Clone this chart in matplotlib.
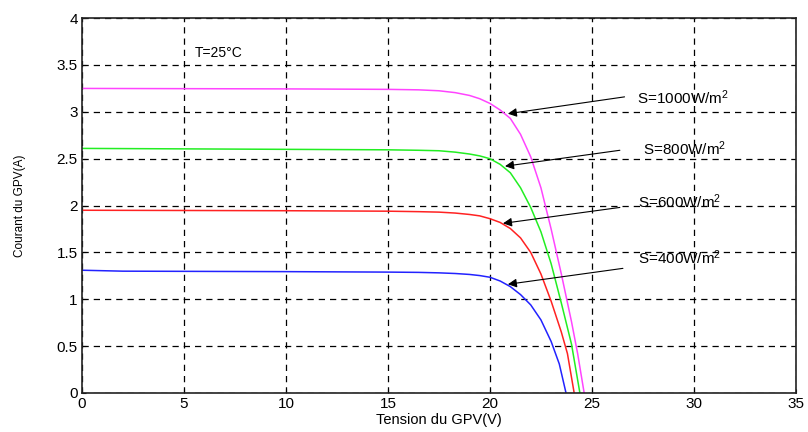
import matplotlib
matplotlib.use("Agg")
import matplotlib.pyplot as plt

plt.rcParams['font.family'] = ['Liberation Sans', 'DejaVu Sans']
plt.rcParams['mathtext.fontset'] = 'custom'
plt.rcParams['mathtext.rm'] = 'Liberation Sans'
plt.rcParams['mathtext.it'] = 'Liberation Sans'

# Data (V, I)
v_1000 = [0, 10, 15, 16.5, 17.5, 18.3, 19.0, 19.5, 20.0, 20.5, 21.0, 21.5, 22.0, 22.5, 23.0, 23.5, 24.0, 24.3, 24.62]
i_1000 = [3.25, 3.245, 3.24, 3.235, 3.225, 3.205, 3.175, 3.14, 3.09, 3.02, 2.93, 2.76, 2.52, 2.19, 1.75, 1.27, 0.76, 0.42, 0.0]

v_800 = [0, 10, 15, 16.5, 17.5, 18.3, 19.0, 19.5, 20.0, 20.5, 21.0, 21.5, 22.0, 22.5, 23.0, 23.5, 24.0, 24.41]
i_800 = [2.61, 2.60, 2.595, 2.59, 2.585, 2.57, 2.55, 2.53, 2.50, 2.44, 2.35, 2.19, 1.98, 1.72, 1.38, 0.96, 0.52, 0.0]

v_600 = [0, 10, 15, 16.5, 17.5, 18.3, 19.0, 19.5, 20.0, 20.5, 21.0, 21.5, 22.0, 22.5, 23.0, 23.5, 23.8, 24.13]
i_600 = [1.95, 1.945, 1.94, 1.935, 1.93, 1.92, 1.905, 1.89, 1.86, 1.82, 1.755, 1.655, 1.50, 1.27, 0.98, 0.65, 0.42, 0.0]

v_400 = [0, 2, 10, 15, 16.5, 17.5, 18.3, 19.0, 19.5, 20.0, 20.5, 21.0, 21.5, 22.0, 22.5, 23.0, 23.4, 23.73]
i_400 = [1.31, 1.30, 1.295, 1.29, 1.287, 1.282, 1.275, 1.265, 1.253, 1.235, 1.195, 1.135, 1.05, 0.94, 0.78, 0.55, 0.31, 0.0]

labels = ['S=1000W/m$^2$', 'S=800W/m$^2$', 'S=600W/m$^2$', 'S=400W/m$^2$']
colors = ['#ff44ff', '#22ee22', '#ff2222', '#2222ff']
arrow_heads = [(20.88, 2.98), (20.74, 2.42), (20.64, 1.81), (20.88, 1.16)]
arrow_tails = [(26.6, 3.16), (26.37, 2.59), (26.37, 1.98), (26.52, 1.33)]
text_pos = [(27.2, 3.15), (27.5, 2.61), (27.25, 2.04), (27.25, 1.44)]

x_ticks = [0, 5, 10, 15, 20, 25, 30, 35]
y_ticks = [0, 0.5, 1, 1.5, 2, 2.5, 3, 3.5, 4]
y_tick_labels = ['0', '0.5', '1', '1.5', '2', '2.5', '3', '3.5', '4']

fig = plt.figure(figsize=(8.08, 4.32), dpi=100)
ax = fig.add_axes([0.1015, 0.0903, 0.8835, 0.8677])

curves = [(v_1000, i_1000), (v_800, i_800), (v_600, i_600), (v_400, i_400)]
for (v, i), c in zip(curves, colors):
    ax.plot(v, i, color=c, lw=1.1, solid_joinstyle='round')

ax.set_xlim(0, 35)
ax.set_ylim(0, 4)
ax.set_xticks(x_ticks)
ax.set_yticks(y_ticks)
ax.set_yticklabels(y_tick_labels)
ax.tick_params(direction='in', length=3, labelsize=11, pad=3, color='black')
ax.grid(True, color='black', linestyle=(0, (5, 4)), linewidth=0.9)
for s in ax.spines.values():
    s.set_linewidth(1.2)
    s.set_color('#222222')

ax.set_xlabel('Tension du GPV(V)', fontsize=10.5, labelpad=1)
ax.set_ylabel('Courant du GPV(A)', fontsize=8.5, labelpad=22)

for lab, head, tail, tp in zip(labels, arrow_heads, arrow_tails, text_pos):
    ax.annotate('', xy=head, xytext=tail,
                arrowprops=dict(arrowstyle='-|>', color='black', lw=0.8,
                                mutation_scale=13, shrinkA=0, shrinkB=0))
    ax.text(tp[0], tp[1], lab, fontsize=11, va='center', ha='left')

ax.text(5.54, 3.63, 'T=25°C', fontsize=10, va='center', ha='left')

fig.savefig('out.png', dpi=100)
